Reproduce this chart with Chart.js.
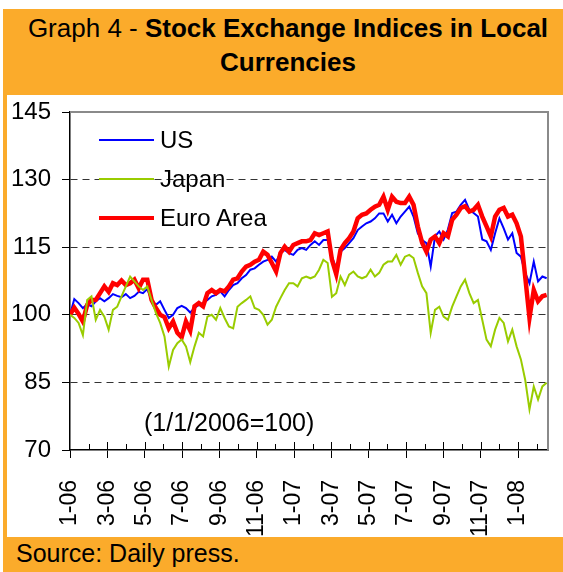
<!DOCTYPE html>
<html lang="en">
<head>
  <meta charset="UTF-8">
  <title>Stock Exchange Indices in Local Currencies</title>
  <script src="https://cdn.jsdelivr.net/npm/chart.js"></script>
  <style>
    body {
      margin: 0;
      width: 563px;
      height: 572px;
      position: relative;
      overflow: hidden;
      background: #fff;
      font-family: "Liberation Sans", Arial, sans-serif;
    }
    .frame {
      position: absolute;
      left: 3px; top: 9px;
      width: 560px; height: 563px;
      background: #fbab2b;
    }
    .panel {
      position: absolute;
      left: 7px; top: 95px;
      width: 556px; height: 442px;
      background: #fff;
    }
    .title {
      position: absolute;
      left: 10px; top: 11px;
      width: 556px;
      text-align: center;
      font-size: 26px;
      line-height: 34px;
      color: #000;
    }
    .title b { font-weight: bold; }
    .source {
      position: absolute;
      left: 16px; top: 538px;
      font-size: 25px;
      line-height: 30px;
    }
    canvas { position: absolute; left: 7px; top: 95px; }
    .legend { position: absolute; left: 99px; top: 120px; }
    .legend div { height: 39px; display: flex; align-items: center; font-size: 24px; }
    .legend span.line { display: inline-block; width: 55px; margin-right: 6px; }
    .note {
      position: absolute;
      left: 144px; top: 407px;
      font-size: 25px;
      line-height: 30px;
    }
  </style>
</head>
<body>
  <div class="frame"></div>
  <div class="panel"></div>
  <div class="title">Graph 4 - <b>Stock Exchange Indices in Local Currencies</b></div>
  <canvas id="chart" width="556" height="442"></canvas>
  <div class="legend" id="legend"></div>
  <div class="note">(1/1/2006=100)</div>
  <div class="source">Source: Daily press.</div>

  <script>
    // weekly readings, first week of Jan 2006 = 100
    const us = [
      100, 103.5, 102.6, 101.5, 102.3, 101.9, 103, 103.7, 103, 103.7, 104.6, 104.2, 103.9, 104.6,
      103.7, 104.2, 105.1, 104.8, 105.7, 103.3, 102.2, 103, 101.1, 99.3, 100, 101.5, 102, 101.5,
      100.5, 101.5, 102.2, 102.6, 103.3, 104.1, 104.4, 105.2, 104.1, 105.5, 106.6, 107, 108.1, 108.8,
      110, 110.3, 111.1, 111.8, 112.2, 112.9, 111.8, 113.7, 114.4, 113.7, 113.3, 114.4, 114.8, 114.4,
      115.5, 116.3, 115.5, 116.6, 116.6, 112.9, 110.3, 114, 114.8, 115.9, 117, 118.8, 119.6, 120.3,
      120.7, 121.4, 122.5, 122.5, 120.7, 122.2, 120.3, 121.8, 122.9, 124, 121.8, 118.1, 116.6, 115.9,
      110.7, 117.4, 118.5, 116.7, 118.9, 122.6, 122.9, 124.4, 125.5, 123.3, 122.6, 121.8, 116.7, 116.3,
      114.4, 118.1, 121.4, 119.2, 116.7, 118.1, 113.7, 112.9, 109.3, 107, 111.8, 107.4, 108.5, 108.1
    ];
    const japan = [
      100, 99.3, 98.2, 95.5, 103.3, 104.1, 98.9, 101.1, 99.6, 96.7, 101.1, 101.8, 104.1, 106.3,
      108.5, 107.4, 106.3, 105.5, 106.3, 103.3, 100.4, 98.2, 95.2, 88.5, 92.2, 93.7, 94.5, 93,
      89.5, 93, 96, 95.2, 99.6, 100, 98.9, 101.5, 99.3, 97.4, 97, 101.8, 102.6, 103.3,
      104.1, 101.5, 101.1, 100, 97.8, 98.9, 101.8, 103.7, 105.5, 107, 107, 106.3, 108.1, 108.5,
      108.1, 108.5, 110, 112.2, 111.5, 104, 104.8, 108.5, 106.6, 108.9, 109.6, 108.5, 108.1, 108.5,
      110, 108.5, 109.3, 111.1, 111.8, 111.8, 113.3, 111.1, 112.9, 113.3, 112.6, 109.3, 106.3, 104.8,
      96, 101.1, 101.8, 99.6, 98.9, 101.8, 104.1, 106.3, 107.8, 104.8, 102.6, 103.3, 98.9, 94.5,
      93, 96.7, 99.3, 98.2, 94.1, 96.7, 93, 90.1, 85.6, 79, 84.1, 81.2, 84.1, 84.9
    ];
    const euro = [
      100, 101.6, 100.2, 98.5, 102.2, 103.3, 103.3, 104.8, 106.3, 105.1, 107, 106.6, 107.6, 106.6,
      107, 107.8, 105.9, 107.8, 107.8, 103.3, 101.5, 100, 99.5, 97, 98.5, 96, 95, 98.5,
      96.5, 101.9, 102.6, 101.9, 104.8, 105.5, 104.8, 105.5, 105.2, 106.3, 107.8, 108.1, 109.6, 110.7,
      111.1, 111.8, 112.2, 114, 113.3, 111.5, 109.6, 113.7, 115.1, 114, 115.5, 115.9, 116.3, 116.3,
      116.6, 118.1, 117.7, 118.1, 118.5, 112.2, 109, 114.4, 115.9, 117, 118.5, 121.4, 122.2, 122.5,
      123.3, 124, 124.4, 126.2, 123.3, 126.2, 125.1, 124.8, 124.8, 126.2, 124.4, 119.6, 116, 114,
      116.7, 117.4, 115.9, 118.1, 117.4, 121.1, 122.2, 123.7, 124.1, 122.9, 123.3, 124.4, 121.8, 119.6,
      117.4, 121.8, 123.3, 123.7, 121.8, 122.2, 120.3, 117.4, 108.5, 99.3, 105.5, 103, 104.1, 104.4
    ];
    const seriesNames = ['US', 'Japan', 'Euro Area'];
    const seriesColors = ['#0000ff', '#99cc00', '#ff0000'];
    const seriesWidths = [2, 2, 4.5];
    const tickLabels = ['1-06', '3-06', '5-06', '7-06', '9-06', '11-06', '1-07',
                        '3-07', '5-07', '7-07', '9-07', '11-07', '1-08'];
    const yTicks = [70, 85, 100, 115, 130, 145];

    // x is measured in months since 1 Jan 2006
    const toPoints = vals => vals.map((v, i) => ({ x: i * 7 / 30.4375, y: v }));

    // keep the plot box where the layout padding puts it
    const noPad = s => { s.paddingTop = 0; s.paddingBottom = 0; s.paddingLeft = 0; s.paddingRight = 0; };

    const frame = {
      id: 'frame',
      afterDraw(chart) {
        const { ctx, chartArea: a } = chart;
        const xs = chart.scales.x;
        ctx.save();
        ctx.strokeStyle = '#8a8a8a';
        ctx.lineWidth = 2;
        ctx.beginPath();
        ctx.moveTo(a.left, a.top);
        ctx.lineTo(a.right, a.top);
        ctx.lineTo(a.right, a.bottom);
        ctx.stroke();
        // inward month ticks
        ctx.strokeStyle = '#000';
        ctx.lineWidth = 1;
        for (let m = 1; m <= 25; m++) {
          const px = Math.round(xs.getPixelForValue(m)) + 0.5;
          ctx.beginPath();
          ctx.moveTo(px, a.bottom);
          ctx.lineTo(px, a.bottom - (m % 2 === 0 ? 8 : 6));
          ctx.stroke();
        }
        ctx.restore();
      }
    };

    const order = [3, 1, 2];
    new Chart(document.getElementById('chart'), {
      type: 'line',
      data: {
        datasets: [us, japan, euro].map((vals, k) => ({
          label: seriesNames[k],
          data: toPoints(vals),
          borderColor: seriesColors[k],
          borderWidth: seriesWidths[k],
          pointRadius: 0,
          tension: 0,
          fill: false,
          order: order[k]
        }))
      },
      options: {
        responsive: false,
        animation: false,
        devicePixelRatio: 1,
        layout: { padding: { left: 0, right: 15, top: 17, bottom: 0 } },
        plugins: { legend: { display: false }, tooltip: { enabled: false } },
        scales: {
          x: {
            type: 'linear',
            min: 0,
            max: 25.6,
            afterFit(s) { s.height = 87; noPad(s); },
            grid: {
              drawOnChartArea: false,
              tickLength: 8,
              tickColor: c => (c.tick && c.tick.value % 2 === 0) ? '#000' : 'rgba(0,0,0,0)'
            },
            border: { color: '#000', width: 1.5 },
            ticks: {
              stepSize: 1,
              includeBounds: false,
              autoSkip: false,
              minRotation: 90,
              maxRotation: 90,
              padding: 22,
              color: '#000',
              font: { family: '"Liberation Sans", Arial, sans-serif', size: 23 },
              callback: v => (v % 2 === 0 ? tickLabels[v / 2] : '')
            }
          },
          y: {
            min: yTicks[0],
            max: yTicks[yTicks.length - 1],
            afterFit(s) { s.width = 63; noPad(s); },
            afterBuildTicks(s) { s.ticks = yTicks.map(v => ({ value: v })); },
            grid: {
              color: c => (c.tick && (c.tick.value === 70 || c.tick.value === 145)) ? 'rgba(0,0,0,0)' : '#333',
              lineWidth: 1,
              tickLength: 8,
              tickColor: '#000'
            },
            border: { color: '#000', width: 1.5, dash: [7, 5] },
            ticks: {
              padding: 11,
              color: '#000',
              font: { family: '"Liberation Sans", Arial, sans-serif', size: 24 }
            }
          }
        }
      },
      plugins: [frame]
    });

    const legend = document.getElementById('legend');
    seriesNames.forEach((name, k) => {
      const row = document.createElement('div');
      const line = document.createElement('span');
      line.className = 'line';
      line.style.borderTop = seriesWidths[k] + 'px solid ' + seriesColors[k];
      row.appendChild(line);
      row.appendChild(document.createTextNode(name));
      legend.appendChild(row);
    });
  </script>
</body>
</html>
